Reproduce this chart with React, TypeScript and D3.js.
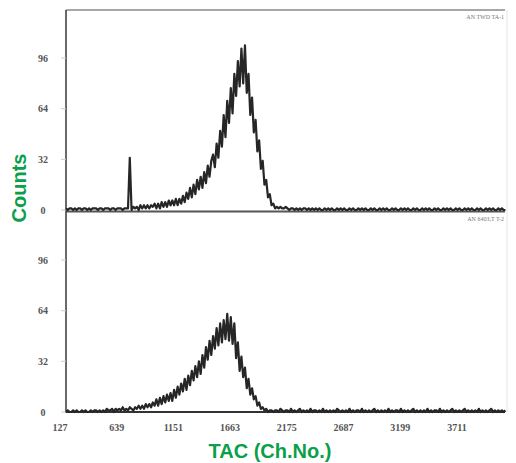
import React from "react";
import * as d3 from "d3";

// Channel grid of the spectra (first channel, channel step between samples)
const CH_START = 127;
const CH_STEP = 16;

// Upper spectrum (counts per sample)
const topCounts: number[] = [
  1,0,1,1,0,1,0,1,1,0,1,1,0,1,0,1,1,1,0,1,1,0,1,1,1,0,1,1,0,1,1,1,0,1,1,1,
  33,
  0,2,1,2,0,3,1,3,1,3,1,3,2,4,1,4,
  1,5,2,5,2,6,3,6,3,7,3,
  7,4,9,5,11,7,
  14,8,16,10,19,13,
  21,14,24,17,28,21,31,
  35,27,42,33,50,40,
  60,46,69,55,
  77,61,86,
  72,94,78,102,
  80,104,74,86,60,71,
  49,57,37,44,26,31,
  16,19,8,10,3,4,1,2,
  1,2,1,1,2,1,0,1,1,0,
  1,0,1,0,1,1,0,1,0,1,
  0,1,0,1,0,0,1,0,1,0,
  1,0,0,1,0,1,0,1,0,0,
  1,0,1,0,0,1,0,1,0,1,
  0,0,1,0,1,0,0,1,0,1,
  0,1,0,0,1,0,1,0,0,1,
  0,1,0,1,0,0,1,0,1,0,
  0,1,0,1,0,1,0,0,1,0,
  1,0,0,1,0,1,0,1,0,0,
  1,0,1,0,0,1,0,1,0,1,
  0,0,1,0,1,0,0,1,0,1,
  0,1,0,0,1,0,1,0,0,
];

// Lower spectrum (counts per sample)
const bottomCounts: number[] = [
  0,1,0,0,1,0,1,0,0,1,0,1,0,0,1,0,1,1,0,1,0,
  1,0,2,1,1,2,0,2,1,2,1,3,1,2,1,3,2,
  1,3,2,4,2,4,2,5,3,5,3,6,4,
  8,4,9,5,10,6,11,7,
  12,7,14,9,16,11,18,13,
  21,14,23,17,26,20,29,22,
  32,24,36,28,41,33,45,
  36,48,40,53,42,56,
  44,58,46,62,45,60,43,56,
  34,44,26,35,
  22,28,15,21,11,
  15,8,10,4,6,2,3,
  1,2,0,1,1,0,1,
  1,0,2,1,0,1,1,0,2,0,
  1,0,1,2,0,1,0,1,0,2,
  0,1,1,0,1,0,2,0,1,0,
  1,0,1,0,2,1,0,1,0,1,
  0,2,0,1,0,1,1,0,2,0,
  1,0,1,0,1,2,0,1,0,1,
  0,1,0,2,0,1,0,1,1,0,
  2,0,1,0,1,0,1,2,0,1,
  0,1,0,1,0,2,0,1,0,1,
  1,0,2,0,1,0,1,0,1,2,
  0,1,0,1,0,1,2,0,1,0,
  1,0,1,0,2,0,1,0,1,0,
  1,2,0,1,0,1,0,1,0,1,
];

const xTicks = [127, 639, 1151, 1663, 2175, 2687, 3199, 3711];
const yTicks = [0, 32, 64, 96];
const topTag = "AN TWD TA-1";
const bottomTag = "AN 6403,T T-2";
const xTitle = "TAC (Ch.No.)";
const yTitle = "Counts";

const GREEN = "#0aa04a";

export default function App() {
  const left = 66;
  const right = 505;
  const x = d3.scaleLinear().domain([127, 4091]).range([left, right]);
  const yTop = d3.scaleLinear().domain([0, 96]).range([210, 58]);
  const yBot = d3.scaleLinear().domain([0, 96]).range([412, 260]);

  const mkLine = (y: d3.ScaleLinear<number, number>) =>
    d3
      .line<number>()
      .x((_, i) => x(CH_START + CH_STEP * i))
      .y((d) => y(d));

  const topPath = mkLine(yTop)(topCounts) || "";
  const botPath = mkLine(yBot)(bottomCounts) || "";

  const serif = "'Liberation Serif', 'DejaVu Serif', serif";
  const sans = "'Liberation Sans', Arial, sans-serif";

  return (
    <svg
      width={516}
      height={463}
      style={{ position: "absolute", left: 0, top: 0, background: "#fff" }}
    >
      {/* frame */}
      <line x1={left} x2={right} y1={10} y2={10} stroke="#8a8a8a" strokeWidth={1.5} />
      <line x1={right + 2} x2={right + 2} y1={10} y2={412} stroke="#e4e4e4" strokeWidth={1} />
      <line x1={left} x2={right} y1={211.5} y2={211.5} stroke="#555" strokeWidth={2} />
      <line x1={left} x2={right} y1={412} y2={412} stroke="#333" strokeWidth={1.8} />
      <line x1={left} x2={left} y1={10} y2={413} stroke="#444" strokeWidth={1.6} />

      {/* y ticks */}
      {[yTop, yBot].map((y, k) =>
        yTicks.map((t) => (
          <g key={`yt${k}-${t}`}>
            <line x1={left - 5} x2={left} y1={y(t)} y2={y(t)} stroke="#ccc" strokeWidth={1} />
            <text
              x={43}
              y={y(t) + 3.5}
              textAnchor="middle"
              fontFamily={serif}
              fontSize={10}
              fontWeight="bold"
              fill="#555"
            >
              {t}
            </text>
          </g>
        ))
      )}

      {/* x tick labels */}
      {xTicks.map((t) => (
        <text
          key={`xt${t}`}
          x={x(t) - 6}
          y={431}
          textAnchor="middle"
          fontFamily={serif}
          fontSize={10}
          fontWeight="bold"
          fill="#555"
        >
          {t}
        </text>
      ))}

      {/* spectra */}
      <path d={topPath} fill="none" stroke="#262626" strokeWidth={2.2} strokeLinejoin="round" />
      <path d={botPath} fill="none" stroke="#262626" strokeWidth={2.2} strokeLinejoin="round" />

      {/* tags */}
      <text x={504} y={19} textAnchor="end" fontFamily={serif} fontSize={6} fill="#777">
        {topTag}
      </text>
      <text x={504} y={221} textAnchor="end" fontFamily={serif} fontSize={6} fill="#777">
        {bottomTag}
      </text>

      {/* axis titles */}
      <text
        transform="translate(26,188) rotate(-90)"
        textAnchor="middle"
        fontFamily={sans}
        fontWeight="bold"
        fontSize={20}
        fill={GREEN}
      >
        {yTitle}
      </text>
      <text
        x={270}
        y={458}
        textAnchor="middle"
        fontFamily={sans}
        fontWeight="bold"
        fontSize={20}
        fill={GREEN}
      >
        {xTitle}
      </text>
    </svg>
  );
}
